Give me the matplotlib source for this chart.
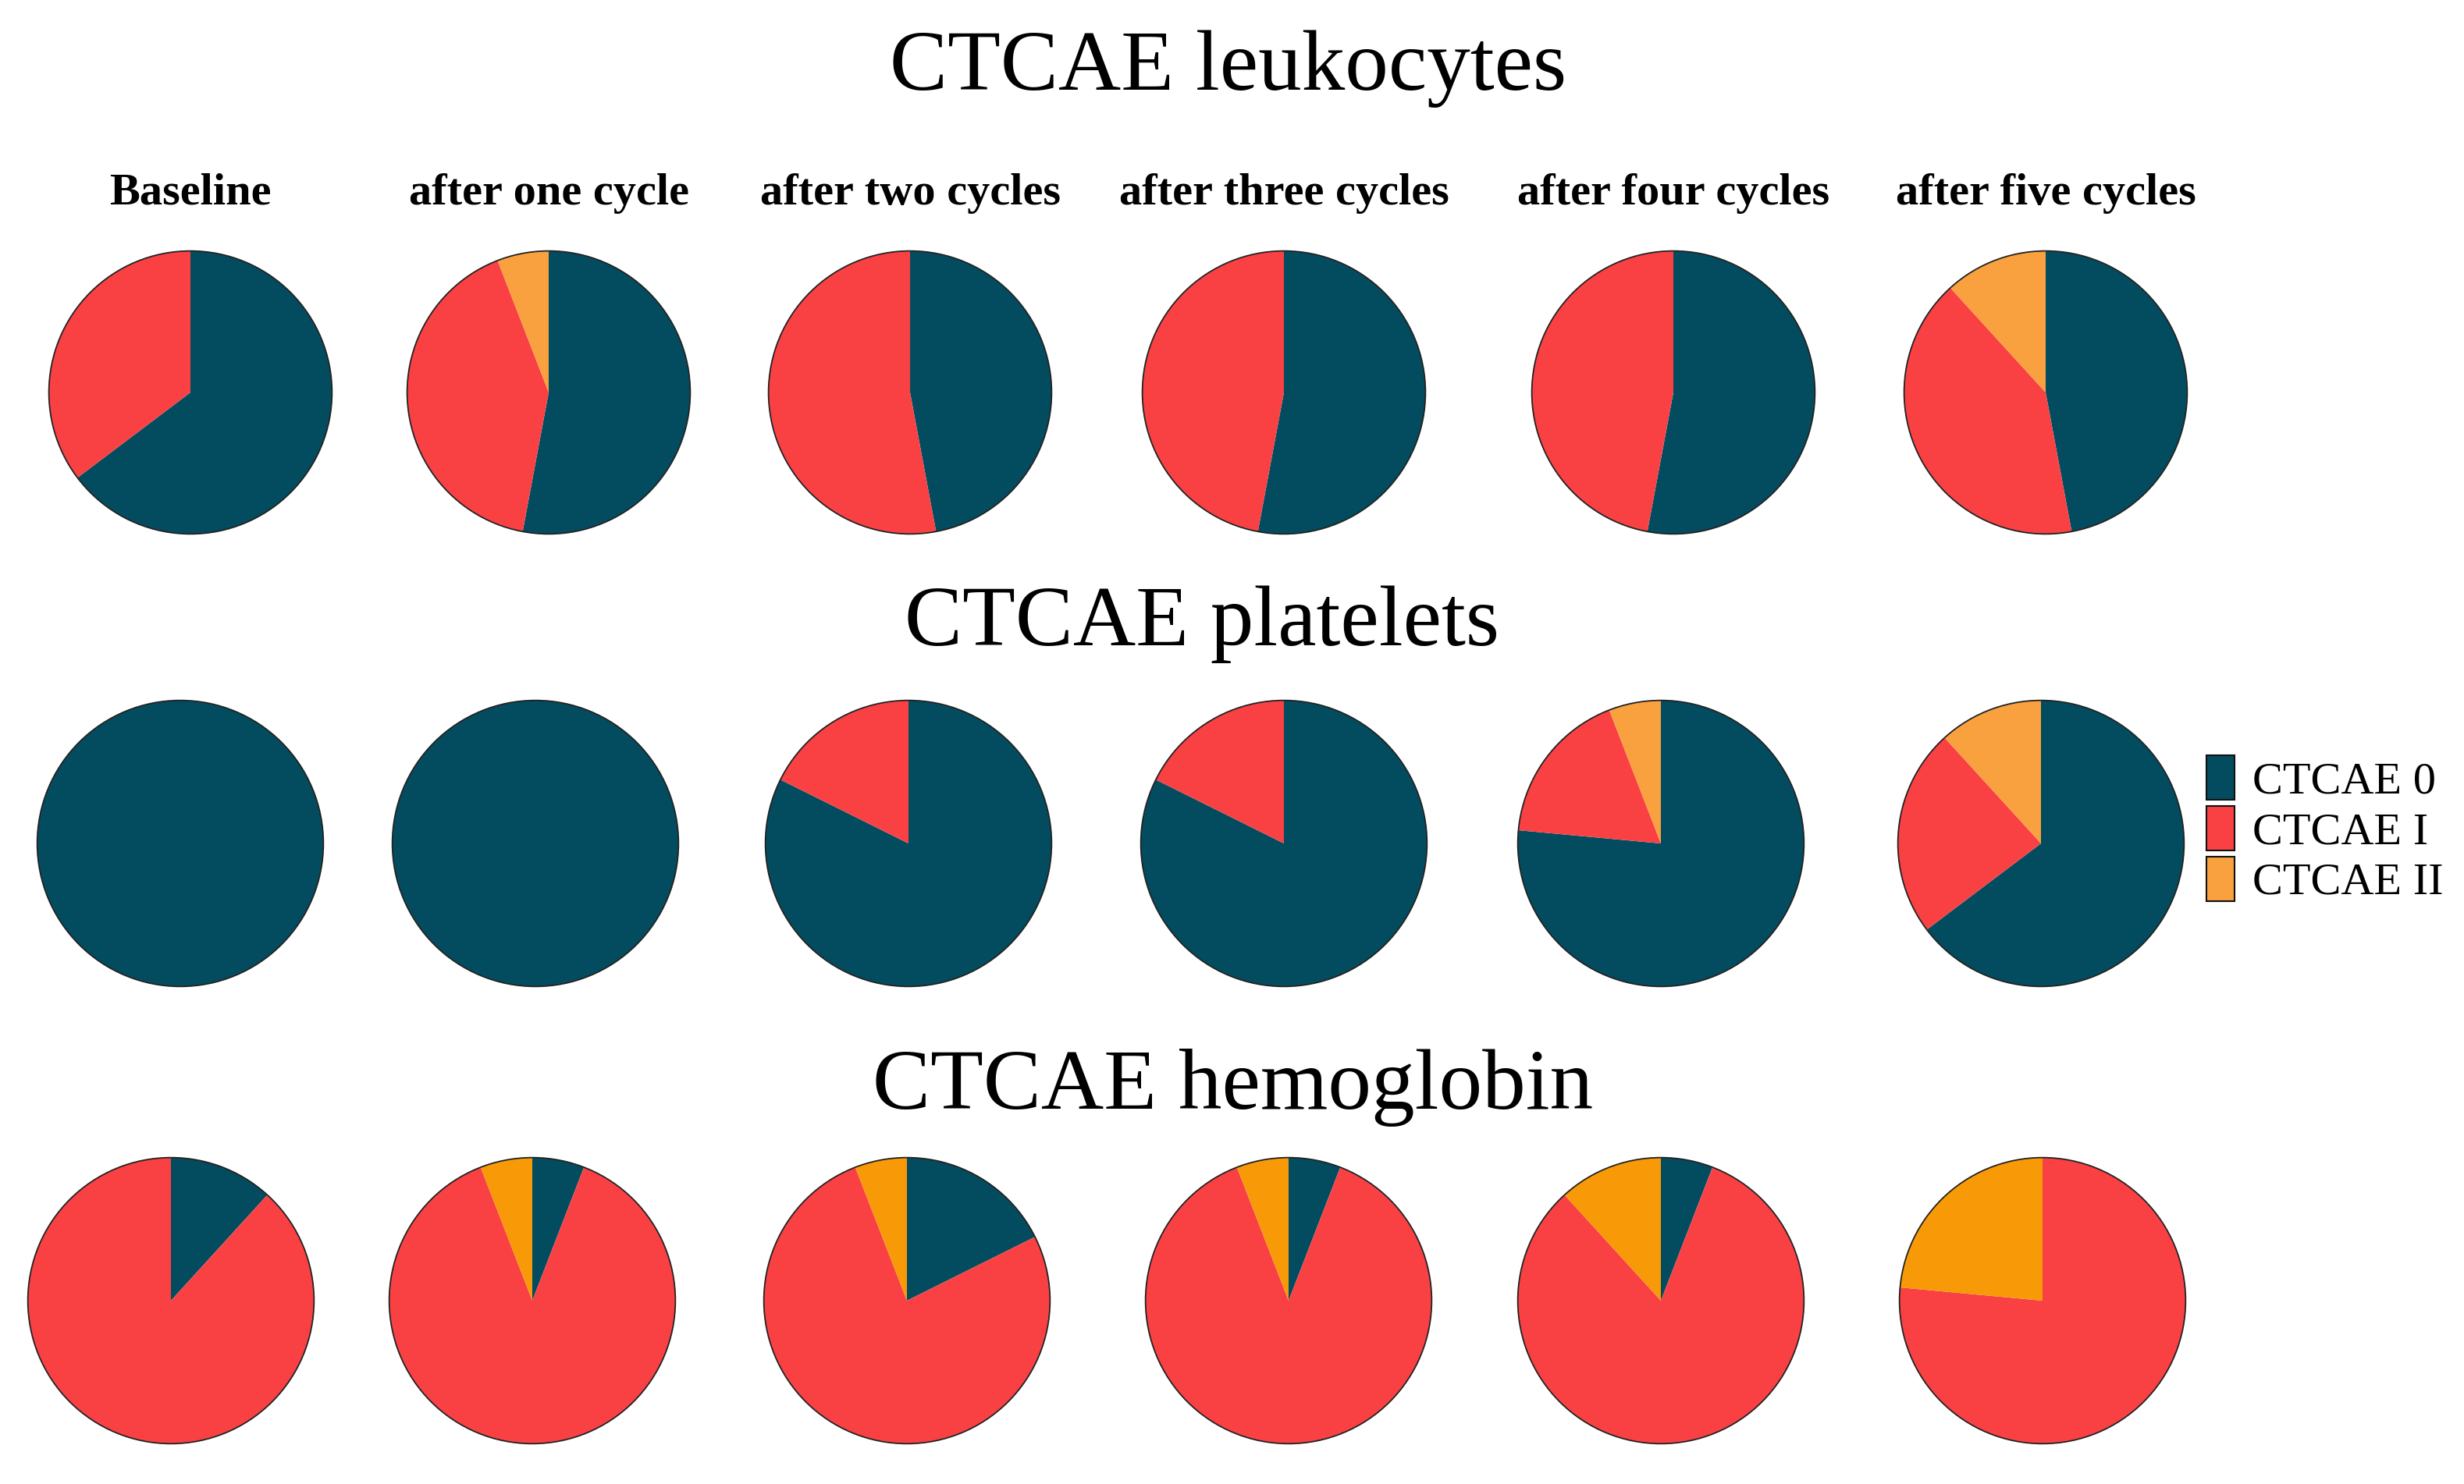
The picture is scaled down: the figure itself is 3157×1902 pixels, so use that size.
import matplotlib
matplotlib.use("Agg")
import matplotlib.pyplot as plt
from matplotlib.patches import Circle, Patch

plt.rcParams["font.family"] = ["Liberation Serif", "DejaVu Serif"]

# patient counts per grade (CTCAE 0, I, II)
TIMEPOINTS = ["Baseline", "after one cycle", "after two cycles",
              "after three cycles", "after four cycles", "after five cycles"]
GRADES = ["CTCAE 0", "CTCAE I", "CTCAE II"]

leukocytes = [[11, 6, 0], [9, 7, 1], [8, 9, 0], [9, 8, 0], [9, 8, 0], [8, 7, 2]]
platelets = [[17, 0, 0], [17, 0, 0], [14, 3, 0], [14, 3, 0], [13, 3, 1], [11, 4, 2]]
hemoglobin = [[2, 15, 0], [1, 15, 1], [3, 13, 1], [1, 15, 1], [1, 14, 2], [0, 13, 4]]

PANELS = [
    ("CTCAE leukocytes", leukocytes, ["#034C5F", "#F94144", "#F9A03F"]),
    ("CTCAE platelets", platelets, ["#034C5F", "#F94144", "#F9A03F"]),
    ("CTCAE hemoglobin", hemoglobin, ["#034C5F", "#F94144", "#F89A08"]),
]

# layout in output pixels (x from left, y from top)
W, H = 3157, 1902
ROW_Y = [503, 1081, 1667]
ROW_R = [185, 187, 187]
COL_X = [
    [244, 703, 1166, 1645, 2144, 2621],
    [231, 686, 1164, 1645, 2128, 2615],
    [219, 682, 1162, 1651, 2128, 2617],
]
TITLE_POS = [(1574, 115), (1540, 827), (1580, 1421)]
HEADER_Y = 262

fig = plt.figure(figsize=(W / 100, H / 100), dpi=100)
fig.patch.set_facecolor("white")

for row, (title, counts, colors) in enumerate(PANELS):
    tx, ty = TITLE_POS[row]
    fig.text(tx / W, 1 - ty / H, title, ha="center", va="baseline", fontsize=80)
    r = ROW_R[row]
    for col, vals in enumerate(counts):
        cx, cy = COL_X[row][col], ROW_Y[row]
        ax = fig.add_axes([(cx - r) / W, 1 - (cy + r) / H, 2 * r / W, 2 * r / H])
        ax.pie(vals, colors=colors, startangle=90, counterclock=False,
               radius=1, wedgeprops={"linewidth": 0})
        ax.add_patch(Circle((0, 0), 1, fill=False, edgecolor="#222222", linewidth=1.3))
        ax.set_xlim(-1.02, 1.02)
        ax.set_ylim(-1.02, 1.02)
        ax.set_aspect("equal")
        ax.axis("off")

for col, label in enumerate(TIMEPOINTS):
    fig.text(COL_X[0][col] / W, 1 - HEADER_Y / H, label, ha="center",
             va="baseline", fontsize=42, fontweight="bold")

handles = [Patch(facecolor=c, edgecolor="#111111", linewidth=1.5)
           for c in PANELS[1][2]]
fig.legend(handles, GRADES, loc="center left",
           bbox_to_anchor=(2827 / W, 1 - 1063 / H), frameon=False,
           fontsize=42, handlelength=0.62, handleheight=1.12,
           labelspacing=0.08, handletextpad=0.4, borderpad=0,
           borderaxespad=0)

fig.savefig("out.png", dpi=100)
